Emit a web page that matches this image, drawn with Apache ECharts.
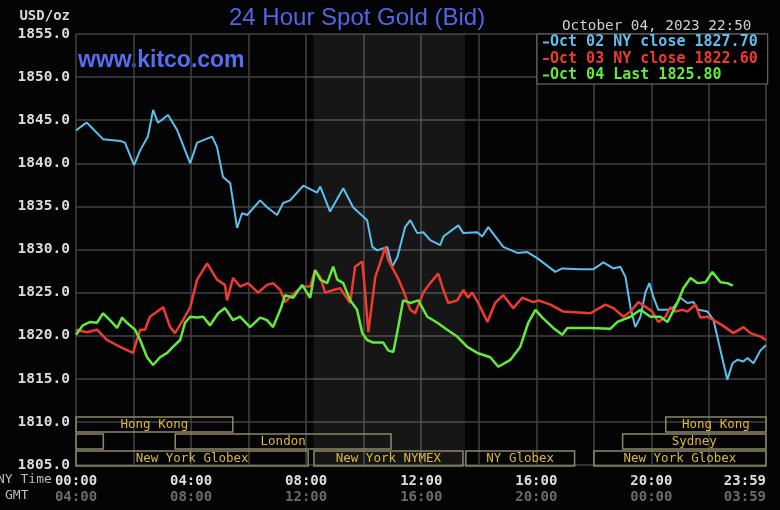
<!DOCTYPE html>
<html>
<head>
    <meta charset="utf-8">
    <title>24 Hour Spot Gold</title>
    <script src="https://cdn.jsdelivr.net/npm/echarts@6/dist/echarts.min.js"></script>
</head>
<style>
    html, body, #main {
        width: 100%;
        height: 100%;
        margin: 0;
        background: #040404;
    }
</style>
<body>
<div id='main'></div>
<script>
    // series names + last values shown in the legend
    var seriesNames = ['Oct 02 NY close', 'Oct 03 NY close', 'Oct 04 Last'];
    var seriesLast = [1827.70, 1822.60, 1825.80];
    var seriesColors = ['#5cc0ee', '#ee3b2e', '#62ea3c'];

    // Oct 02 (blue): NY hour, bid
    var blueHours = [0, 0.31, 0.38, 0.94, 1.53, 1.70, 2.02, 2.23, 2.50, 2.68, 2.85, 3.20, 3.51, 3.97, 4.21, 4.73, 4.90, 5.11, 5.36, 5.60,
        5.77, 5.95, 6.40, 6.64, 6.99, 7.20, 7.44, 7.90, 8.38, 8.49, 8.83, 9.29, 9.63, 10.12, 10.30, 10.47, 10.82, 10.99, 11.17, 11.44,
        11.62, 11.86, 12.07, 12.31, 12.66, 12.77, 13.29, 13.46, 13.95, 14.12, 14.33, 14.85, 15.34, 15.69, 16.03, 16.66, 16.90, 17.53, 17.98, 18.33,
        18.68, 18.92, 19.10, 19.27, 19.44, 19.62, 19.79, 19.93, 20.07, 20.24, 20.56, 20.77, 21.01, 21.25, 21.46, 21.63, 21.95, 22.16, 22.40, 22.64,
        22.82, 22.99, 23.20, 23.34, 23.55, 23.79, 23.98];
    var blueValues = [1843.8, 1844.6, 1844.7, 1842.8, 1842.6, 1842.4, 1839.8, 1841.5, 1843.1, 1846.2, 1844.7, 1845.6, 1843.9, 1840.0, 1842.4, 1843.1, 1841.9, 1838.4, 1837.7, 1832.5,
        1834.2, 1834.0, 1835.7, 1834.9, 1834.0, 1835.4, 1835.7, 1837.4, 1836.6, 1837.3, 1834.4, 1837.1, 1834.9, 1833.4, 1830.3, 1829.9, 1830.3, 1828.0, 1829.1, 1832.6,
        1833.4, 1831.9, 1832.0, 1831.1, 1830.5, 1831.5, 1832.8, 1831.9, 1832.0, 1831.5, 1832.6, 1830.3, 1829.6, 1829.7, 1829.0, 1827.4, 1827.8, 1827.7, 1827.7, 1828.5,
        1827.8, 1828.0, 1826.8, 1823.3, 1821.0, 1822.2, 1825.0, 1826.1, 1824.5, 1823.0, 1823.0, 1823.3, 1824.4, 1823.8, 1823.9, 1823.0, 1822.8, 1821.8, 1818.3, 1814.9,
        1816.8, 1817.2, 1817.0, 1817.4, 1816.8, 1818.3, 1818.9];

    // Oct 03 (red)
    var redHours = [0, 0.38, 0.73, 1.08, 1.53, 1.98, 2.23, 2.40, 2.57, 3.03, 3.27, 3.44, 3.72, 3.97, 4.21, 4.56, 4.90, 5.18, 5.25, 5.46,
        5.70, 5.98, 6.33, 6.64, 6.85, 7.10, 7.27, 7.44, 7.86, 8.14, 8.31, 8.49, 8.66, 8.94, 9.18, 9.53, 9.70, 9.95, 10.05, 10.16,
        10.30, 10.40, 10.64, 10.75, 10.85, 11.17, 11.37, 11.62, 11.79, 12.07, 12.31, 12.59, 12.77, 12.94, 13.25, 13.46, 13.63, 13.77, 13.98, 14.30,
        14.57, 14.85, 15.20, 15.51, 15.90, 16.07, 16.49, 16.94, 17.88, 18.40, 18.68, 19.03, 19.27, 19.55, 19.86, 20.03, 20.24, 20.49, 20.66, 20.83,
        21.08, 21.25, 21.53, 21.70, 21.95, 22.16, 22.47, 22.85, 23.20, 23.44, 23.79, 23.98];
    var redValues = [1820.7, 1820.4, 1820.7, 1819.5, 1818.7, 1818.0, 1820.7, 1820.7, 1822.2, 1823.3, 1821.0, 1820.3, 1821.8, 1823.3, 1826.5, 1828.4, 1826.5, 1825.9, 1824.1, 1826.7,
        1825.7, 1826.1, 1825.0, 1825.9, 1826.1, 1825.3, 1823.9, 1824.5, 1825.7, 1825.7, 1827.6, 1826.8, 1825.0, 1825.3, 1825.5, 1823.8, 1828.0, 1828.6, 1825.0, 1820.4,
        1824.1, 1826.8, 1829.1, 1830.3, 1828.8, 1826.8, 1825.3, 1823.0, 1822.6, 1825.0, 1826.1, 1827.2, 1825.3, 1823.8, 1824.1, 1825.3, 1824.4, 1825.0, 1823.8, 1821.6,
        1823.8, 1824.7, 1823.2, 1824.4, 1823.9, 1824.1, 1823.6, 1822.8, 1822.6, 1823.6, 1823.2, 1822.2, 1822.8, 1823.9, 1823.2, 1822.8, 1821.6, 1822.2, 1823.3, 1822.8,
        1823.0, 1822.8, 1823.6, 1822.1, 1822.2, 1821.8, 1821.2, 1820.3, 1821.0, 1820.3, 1819.9, 1819.5];

    // Oct 04 (green), ends at 22:50
    var greenHours = [0, 0.24, 0.49, 0.73, 0.94, 1.18, 1.43, 1.60, 1.77, 2.05, 2.23, 2.47, 2.68, 2.92, 3.17, 3.37, 3.62, 3.79, 3.97, 4.21,
        4.42, 4.66, 4.94, 5.18, 5.46, 5.70, 6.05, 6.40, 6.64, 6.85, 7.10, 7.27, 7.55, 7.86, 8.14, 8.31, 8.49, 8.73, 8.94, 9.08,
        9.29, 9.53, 9.77, 9.95, 10.12, 10.33, 10.68, 10.85, 11.03, 11.20, 11.37, 11.62, 11.90, 12.21, 12.56, 12.90, 13.25, 13.60, 13.95, 14.40,
        14.68, 15.10, 15.44, 15.72, 15.97, 16.21, 16.59, 16.90, 17.08, 17.88, 18.57, 18.82, 19.27, 19.62, 19.97, 20.31, 20.56, 20.90, 21.11, 21.36,
        21.60, 21.88, 22.12, 22.40, 22.64, 22.83];
    var greenValues = [1820.1, 1821.2, 1821.6, 1821.5, 1822.6, 1821.8, 1820.9, 1822.1, 1821.5, 1820.7, 1819.5, 1817.5, 1816.6, 1817.5, 1818.0, 1818.7, 1819.5, 1821.5, 1822.2, 1822.1,
        1822.2, 1821.2, 1822.6, 1823.2, 1821.8, 1822.2, 1821.0, 1822.1, 1821.8, 1821.0, 1823.0, 1824.7, 1824.4, 1825.9, 1824.4, 1827.6, 1826.5, 1826.1, 1828.0, 1826.5,
        1826.1, 1824.1, 1823.0, 1820.3, 1819.5, 1819.2, 1819.2, 1818.3, 1818.1, 1821.0, 1824.1, 1823.8, 1824.1, 1822.2, 1821.5, 1820.7, 1819.9, 1818.7, 1818.0, 1817.5,
        1816.4, 1817.2, 1818.7, 1821.5, 1823.0, 1822.1, 1820.9, 1820.1, 1820.9, 1820.9, 1820.8, 1821.6, 1822.2, 1823.0, 1822.2, 1822.2, 1821.6, 1823.8, 1825.5, 1826.7,
        1826.1, 1826.2, 1827.4, 1826.2, 1826.1, 1825.8];

    // x axis tick labels (NY time / GMT)
    var tickHours = [0, 4, 8, 12, 16, 20, 23.9833];
    var nyLabels = ['00:00', '04:00', '08:00', '12:00', '16:00', '20:00', '23:59'];
    var gmtLabels = ['04:00', '08:00', '12:00', '16:00', '20:00', '00:00', '03:59'];

    // trading sessions strip at the bottom
    var sessionNames = ['Hong Kong', 'Sydney', 'London', 'New York Globex', 'New York NYMEX', 'NY Globex', 'New York Globex', 'Sydney', 'Hong Kong'];
    var sessionStart = [0, 0, 3.45, 0, 8.27, 13.55, 18.0, 19.0, 20.5];
    var sessionEnd = [5.45, 0.95, 10.95, 8.07, 13.45, 17.33, 23.9833, 23.9833, 23.9833];
    var sessionRow = [0, 1, 1, 2, 2, 2, 2, 1, 0];

    var mono = 'DejaVu Sans Mono';

    function zip(hs, vs) {
        var out = [];
        for (var i = 0; i < hs.length; i++) out.push([hs[i], vs[i]]);
        return out;
    }

    var sessionData = [];
    for (var i = 0; i < sessionNames.length; i++) {
        sessionData.push([sessionStart[i], sessionEnd[i], sessionRow[i]]);
    }

    var chart = echarts.init(document.getElementById('main'));
    var option = {
        backgroundColor: '#040404',
        animation: false,
        grid: {left: 76, right: 14, top: 34, bottom: 45},
        graphic: [
            {type: 'text', left: 229, top: 6, style: {text: '24 Hour Spot Gold (Bid)', fill: '#4f66e6', font: '24px "Liberation Sans"'}},
            {type: 'text', left: 78, top: 49, style: {text: 'www.kitco.com', fill: '#566ef0', font: 'bold 23px "Liberation Sans"'}},
            {type: 'text', left: 562, top: 19, style: {text: 'October 04, 2023 22:50', fill: '#cfcfcf', font: '14.3px ' + mono}},
            {type: 'text', right: 710, top: 9, style: {text: 'USD/oz', fill: '#d8d8d8', font: 'bold 14px ' + mono}},
            {type: 'text', left: -3, top: 473, style: {text: 'NY Time', fill: '#bbbbbb', font: '13px ' + mono}},
            {type: 'text', left: 5, top: 489, style: {text: 'GMT', fill: '#bbbbbb', font: '13px ' + mono}}
        ],
        legend: {
            orient: 'vertical',
            left: 537,
            top: 34,
            backgroundColor: '#000',
            borderColor: '#777',
            borderWidth: 1,
            padding: [1, 10, 1, 6],
            itemGap: 1.5,
            itemWidth: 6,
            itemHeight: 2,
            icon: 'rect',
            selectedMode: false,
            data: seriesNames.map(function (n, i) {
                return {name: n, textStyle: {color: seriesColors[i]}};
            }),
            formatter: function (name) {
                return name + ' ' + seriesLast[seriesNames.indexOf(name)].toFixed(2);
            },
            textStyle: {fontFamily: mono, fontSize: 15, fontWeight: 'bold', lineHeight: 15, padding: [0, 0, 0, -4]}
        },
        xAxis: {
            type: 'value',
            min: 0,
            max: 23.9833,
            interval: 2,
            axisLine: {show: false},
            axisTick: {show: false},
            splitLine: {show: true, lineStyle: {color: '#424242', width: 1.5}},
            axisLabel: {
                margin: 8,
                showMaxLabel: true,
                alignMaxLabel: 'right',
                formatter: function (v) {
                    for (var k = 0; k < tickHours.length; k++) {
                        if (Math.abs(tickHours[k] - v) < 0.01) {
                            return '{a|' + nyLabels[k] + '}\n{b|' + gmtLabels[k] + '}';
                        }
                    }
                    return '';
                },
                rich: {
                    a: {color: '#dedede', fontFamily: mono, fontWeight: 'bold', fontSize: 14, lineHeight: 16},
                    b: {color: '#6a6a6a', fontFamily: mono, fontWeight: 'bold', fontSize: 14, lineHeight: 16}
                }
            }
        },
        yAxis: {
            type: 'value',
            min: 1805,
            max: 1855,
            interval: 5,
            axisLine: {show: false},
            axisTick: {show: false},
            splitLine: {show: true, lineStyle: {color: '#424242', width: 1.5}},
            axisLabel: {
                margin: 6,
                color: '#dcdcdc',
                fontFamily: mono,
                fontWeight: 'bold',
                fontSize: 14.5,
                formatter: function (v) { return v.toFixed(1); }
            }
        },
        series: [
            {
                name: seriesNames[0],
                type: 'line',
                data: zip(blueHours, blueValues),
                showSymbol: false,
                lineStyle: {color: seriesColors[0], width: 2},
                itemStyle: {color: seriesColors[0]},
                markArea: {
                    silent: true,
                    itemStyle: {color: 'rgba(255,255,255,0.075)'},
                    data: [[{xAxis: 8.25}, {xAxis: 13.52}]]
                }
            },
            {
                name: seriesNames[1],
                type: 'line',
                data: zip(redHours, redValues),
                showSymbol: false,
                lineStyle: {color: seriesColors[1], width: 2.5},
                itemStyle: {color: seriesColors[1]}
            },
            {
                name: seriesNames[2],
                type: 'line',
                data: zip(greenHours, greenValues),
                showSymbol: false,
                lineStyle: {color: seriesColors[2], width: 2.5},
                itemStyle: {color: seriesColors[2]}
            },
            {
                type: 'custom',
                silent: true,
                data: sessionData,
                renderItem: function (params, api) {
                    var x0 = api.coord([api.value(0), 1805])[0];
                    var x1 = api.coord([api.value(1), 1805])[0];
                    var base = api.coord([0, 1805])[1];
                    var top = base - 14 - (2 - api.value(2)) * 17;
                    var name = sessionNames[params.dataIndex];
                    var w = x1 - x0;
                    return {
                        type: 'group',
                        children: [
                            {
                                type: 'rect',
                                shape: {x: x0, y: top, width: w, height: 15},
                                style: {fill: 'none', stroke: '#8a8868', lineWidth: 1.5}
                            },
                            {
                                type: 'text',
                                style: {
                                    text: w > name.length * 7.6 + 4 ? name : '',
                                    x: (x0 + x1) / 2,
                                    y: top + 8,
                                    align: 'center',
                                    verticalAlign: 'middle',
                                    fill: '#dcb83a',
                                    font: '12.5px ' + mono
                                }
                            }
                        ]
                    };
                }
            }
        ]
    };
    chart.setOption(option);

    window.onresize = chart.resize;
</script>
</body>
</html>
